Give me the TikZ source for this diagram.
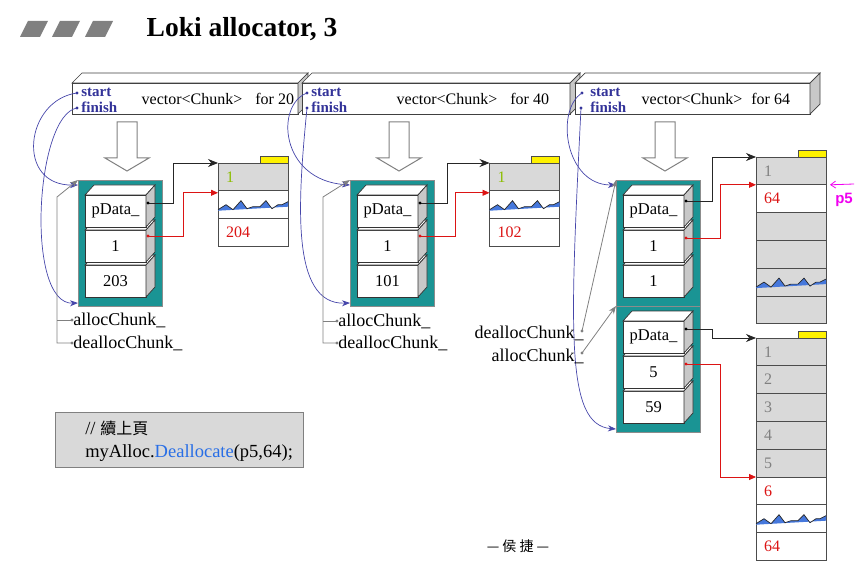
\documentclass[tikz,border=0pt]{standalone}
\usepackage{fontspec}
\setmainfont{Liberation Serif}
\setsansfont{Liberation Sans}
\newfontfamily\cjk{Noto Sans CJK TC}
\usetikzlibrary{positioning,arrows.meta}
\definecolor{chunkbg}{RGB}{26,148,148}
\definecolor{ptrnavy}{RGB}{51,51,153}
\definecolor{curveblue}{RGB}{70,70,170}
\definecolor{sidegray}{RGB}{200,200,200}
\definecolor{rowgray}{RGB}{217,217,217}
\definecolor{numred}{RGB}{220,20,20}
\definecolor{numgreen}{RGB}{140,190,0}
\definecolor{numgray}{RGB}{128,128,128}
\definecolor{wblue}{RGB}{70,120,220}
\definecolor{callblue}{RGB}{40,110,230}
\definecolor{pmag}{RGB}{240,0,240}

\begin{document}
\begin{tikzpicture}[x=1pt,y=-1pt,line width=0.7pt,font=\fontsize{16}{19}\selectfont,
  bar/.style={draw=black!75,fill=white,minimum width=#1,minimum height=31,inner sep=0,outer sep=0},
  bartop/.style={draw=black!75,fill=white},
  barside/.style={draw=black!75,fill=sidegray},
  sf/.style={font=\fontsize{15}{17}\selectfont\bfseries,text=ptrnavy,inner sep=1pt},
  panel/.style={draw=black!45,fill=chunkbg,minimum width=84,minimum height=126,inner sep=0,outer sep=0},
  cell/.style={draw=black!80,fill=white,minimum width=61,minimum height=32,inner sep=0,outer sep=0,font=\fontsize{16.5}{18}\selectfont},
  celltop/.style={draw=black!80,fill=white},
  cellside/.style={draw=black!80,fill=sidegray},
  drow/.style={draw=black!70,fill=white,minimum height=27.8,text width=54,inner xsep=8,inner ysep=0,outer sep=0,align=left},
  tab/.style={draw=black!70,fill=yellow,minimum width=28,minimum height=7,inner sep=0,outer sep=0},
  lbl/.style={font=\fontsize{18}{20}\selectfont,inner sep=1pt},
  blk/.style={black!85,line width=0.8pt,-{Stealth[length=10pt,width=8pt]}},
  redptr/.style={numred,line width=0.8pt,-{Triangle[length=7pt,width=6pt]}},
  curve/.style={curveblue,line width=0.7pt,-{Stealth[length=8pt,width=6pt,inset=2.5pt]}},
  gptr/.style={black!50,line width=0.8pt,-{Stealth[length=8pt,width=6pt]}},
  gline/.style={black!50,line width=0.8pt},
  hollow/.style={draw=black!50,fill=white,line width=1pt}]
  \useasboundingbox (0,0) rectangle (866,577);

  % title
  \foreach \tx in {20,52,85}
    \fill[black!50] (\tx,37) -- (\tx+8,21) -- (\tx+28,21) -- (\tx+20,37) -- cycle;
  \node[anchor=west,font=\fontsize{27.5}{31}\selectfont\bfseries] (title) at (143,29) {Loki allocator, 3};

  % the three vectors
  \node[bar=226] (bar1) at (185,98.5) {};
  \filldraw[bartop] (bar1.north west) -- ++(10,-10) -- ([shift={(10,-10)}]bar1.north east) -- (bar1.north east) -- cycle;
  \filldraw[barside] (bar1.north east) -- ++(10,-10) -- ++(0,31) -- (bar1.south east) -- cycle;
  \node[bar=268] (bar2) at (436,98.5) {};
  \filldraw[bartop] (bar2.north west) -- ++(10,-10) -- ([shift={(10,-10)}]bar2.north east) -- (bar2.north east) -- cycle;
  \filldraw[barside] (bar2.north east) -- ++(10,-10) -- ++(0,31) -- (bar2.south east) -- cycle;
  \node[bar=235] (bar3) at (692.5,98.5) {};
  \filldraw[bartop] (bar3.north west) -- ++(10,-10) -- ([shift={(10,-10)}]bar3.north east) -- (bar3.north east) -- cycle;
  \filldraw[barside] (bar3.north east) -- ++(10,-10) -- ++(0,31) -- (bar3.south east) -- cycle;

  \node[sf,anchor=west] (st1) at (80,92) {start};
  \node[sf,anchor=west] (fi1) at (80,107) {finish};
  \node[anchor=west] (vc1) at (138,99) {vector<Chunk>\hspace{13pt}for 20};
  \node[sf,anchor=west] (st2) at (310,92) {start};
  \node[sf,anchor=west] (fi2) at (310,107) {finish};
  \node[anchor=west] (vc2) at (393,99) {vector<Chunk>\hspace{13pt}for 40};
  \node[sf,anchor=west] (st3) at (589,92) {start};
  \node[sf,anchor=west] (fi3) at (589,107) {finish};
  \node[anchor=west] (vc3) at (638,99) {vector<Chunk>\hspace{9pt}for 64};
  \coordinate (sd1) at (77,93);  \coordinate (fd1) at (77,108);
  \coordinate (sd2) at (307,93); \coordinate (fd2) at (307,108);
  \coordinate (sd3) at (582,93); \coordinate (fd3) at (581,108);
  \foreach \d in {sd1,fd1,sd2,fd2,sd3,fd3}
    \fill[ptrnavy] (\d) circle (1.6);

  % hollow arrows
  \foreach \ax in {127,399,665}
    \filldraw[hollow] (\ax-10,122) -- (\ax+10,122) -- (\ax+10,158) -- (\ax+22,158) -- (\ax,171)
      -- (\ax-22,158) -- (\ax-10,158) -- cycle;

  % chunk panels
  \node[panel] (pn1) at (120,243) {};
  \node[panel] (pn2) at (392,243) {};
  \node[panel] (pn3a) at (658,243) {};
  \node[panel] (pn3b) at (658,369) {};

  \foreach \n/\cx/\cy/\t in {c1c/115.5/281/203, c1b/115.5/246/1, c1a/115.5/211/pData\_,
      c2c/387.5/281/101, c2b/387.5/246/1, c2a/387.5/211/pData\_,
      c3c/653.5/281/1, c3b/653.5/246/1, c3a/653.5/211/pData\_,
      c4c/653.5/407/59, c4b/653.5/372/5, c4a/653.5/337/pData\_}{
    \node[cell] (\n) at (\cx,\cy) {\t};
    \filldraw[celltop] (\n.north west) -- ++(9,-10) -- ++(61,0) -- (\n.north east) -- cycle;
    \filldraw[cellside] (\n.north east) -- ++(9,-10) -- ++(0,32) -- (\n.south east) -- cycle;
  }

  % data blocks
  \node[drow,fill=rowgray,text=numgreen] (d1a) at (253,176.9) {1};
  \node[drow,below=0pt of d1a] (d1b) {};
  \node[drow,below=0pt of d1b,text=numred] (d1c) {204};
  \node[drow,fill=rowgray,text=numgreen] (d2a) at (524.5,176.9) {1};
  \node[drow,below=0pt of d2a] (d2b) {};
  \node[drow,below=0pt of d2b,text=numred] (d2c) {102};
  \foreach \t/\c/\k [count=\i] in {1/rowgray/numgray, 64/white/numred, {}/rowgray/black,
      {}/rowgray/black, {}/rowgray/black, {}/rowgray/black}
    \node[drow,fill=\c,text=\k] (f\i) at (791,{157+27.8*(\i-0.5)}) {\t};
  \foreach \t/\c/\k [count=\i] in {1/rowgray/numgray, 2/rowgray/numgray, 3/rowgray/numgray,
      4/rowgray/numgray, 5/rowgray/numgray, 6/white/numred, {}/white/black, 64/white/numred}
    \node[drow,fill=\c,text=\k] (g\i) at (791,{338+27.8*(\i-0.5)}) {\t};
  \node[tab,anchor=south east] (t1) at (d1a.north east) {};
  \node[tab,anchor=south east] (t2) at (d2a.north east) {};
  \node[tab,anchor=south east] (t3) at (f1.north east) {};
  \node[tab,anchor=south east] (t4) at (g1.north east) {};

  \foreach \w in {d1b,d2b,f5,g7}{
    \begin{scope}[shift={(\w.west)}]
      \fill[wblue] (0,5) -- (8,0) -- (15,5) -- (23,-4) -- (29,4) -- (35,2) -- (42,2) -- (48,-4)
        -- (54,4) -- (60,0) -- (64,0) -- (70,-3) -- (70,2) -- (0,6) -- cycle;
      \draw[black!85,line width=0.7pt] (0,5) -- (8,0) -- (15,5) -- (23,-4) -- (29,4) -- (35,2)
        -- (42,2) -- (48,-4) -- (54,4) -- (60,0) -- (64,0) -- (70,-3);
    \end{scope}
  }

  % pData_ and free-block pointers
  \coordinate (pd1) at ([shift={(2,8)}]c1a.north east);
  \coordinate (nd1) at ([shift={(2,6)}]c1b.north east);
  \coordinate (pd2) at ([shift={(2,8)}]c2a.north east);
  \coordinate (nd2) at ([shift={(2,6)}]c2b.north east);
  \coordinate (pd3) at ([shift={(2,6)}]c3a.north east);
  \coordinate (nd3) at ([shift={(2,8)}]c3b.north east);
  \coordinate (pd4) at ([shift={(2,8)}]c4a.north east);
  \coordinate (nd4) at ([shift={(2,8)}]c4b.north east);
  \draw[blk] (pd1) -- ++(25,0) |- (d1a.north west);
  \draw[redptr] (nd1) -- ++(35,0) |- ([yshift=-2pt]d1b.north west);
  \draw[blk] (pd2) -- ++(27,0) |- (d2a.north west);
  \draw[redptr] (nd2) -- ++(35,0) |- ([yshift=-2pt]d2b.north west);
  \draw[blk] (pd3) -- ++(26,0) |- (f1.north west);
  \draw[redptr] (nd3) -- ++(34,0) |- (f2.north west);
  \draw[blk] (pd4) -- ++(26,0) |- (g1.north west);
  \draw[redptr] (nd4) -- ++(34,0) |- (g6.north west);
  \foreach \d in {pd1,pd2,pd3,pd4}
    \fill[black] (\d) circle (1.7);
  \foreach \d in {nd1,nd2,nd3,nd4}
    \fill[numred] (\d) circle (1.7);

  % start / finish
  \draw[curve] (sd1) .. controls (25,100) and (15,186) .. ([yshift=-5pt]pn1.north west);
  \draw[curve] (fd1) .. controls (35,115) and (25,305) .. ([yshift=3pt]pn1.south west);
  \draw[curve] (sd2) .. controls (275,105) and (280,180) .. ([yshift=-5pt]pn2.north west);
  \draw[curve] (fd2) .. controls (298,200) and (290,305) .. ([yshift=3pt]pn2.south west);
  \draw[curve] (sd3) .. controls (555,110) and (565,185) .. ([yshift=-5pt]pn3a.north west);
  \draw[curve] (fd3) .. controls (570,330) and (565,425) .. ([yshift=3pt]pn3b.south west);

  % allocChunk_ / deallocChunk_
  \node[lbl,anchor=west] (al1) at (72,320) {allocChunk\_};
  \node[lbl,anchor=west] (de1) at (72,343) {deallocChunk\_};
  \coordinate (k1) at (57,197);
  \draw[gline] (al1.west) -- (al1.west -| k1);
  \draw[gptr] (de1.west) -| (k1) -- (pn1.north west);
  \node[lbl,anchor=west] (al2) at (337,321) {allocChunk\_};
  \node[lbl,anchor=west] (de2) at (337,343) {deallocChunk\_};
  \coordinate (k2) at (323,197);
  \draw[gline] (al2.west) -- (al2.west -| k2);
  \draw[gptr] (de2.west) -| (k2) -- (pn2.north west);
  \node[lbl,anchor=east] (de3) at (585,333) {deallocChunk\_};
  \node[lbl,anchor=east] (al3) at (585,356) {allocChunk\_};
  \coordinate (dd3) at ([shift={(-3,-2)}]de3.east);
  \coordinate (ad3) at ([shift={(-3,-3)}]al3.east);
  \draw[gptr] (dd3) -- (pn3a.north west);
  \draw[gptr] (ad3) -- (pn3b.north west);
  \foreach \d in {al1.west,de1.west,al2.west,de2.west,dd3,ad3}
    \fill[black!50] (\d) circle (1.6);

  % p5
  \node[font=\fontsize{15}{17}\sffamily\bfseries,text=pmag] (p5) at (844,200) {p5};
  \coordinate (p5a) at (854,184);
  \draw[pmag,line width=0.8pt,-{Straight Barb[length=5pt,width=7pt]}] (p5a) -- ([xshift=4pt]f2.north east);

  % code
  \node[draw=black!50,fill=rowgray,minimum width=248,minimum height=55,inner sep=0] (code) at (179,439.5) {};
  \node[anchor=west,align=left,font=\fontsize{18.5}{23}\selectfont,inner sep=0] (codetxt) at (85,441)
    {// {\cjk\fontsize{16}{23}\selectfont 續上頁}\\myAlloc.\textcolor{callblue}{Deallocate}(p5,64);};

  \node[font=\fontsize{14}{16}\cjk] (ftr) at (518,546) {— 侯 捷 —};
\end{tikzpicture}
\end{document}
